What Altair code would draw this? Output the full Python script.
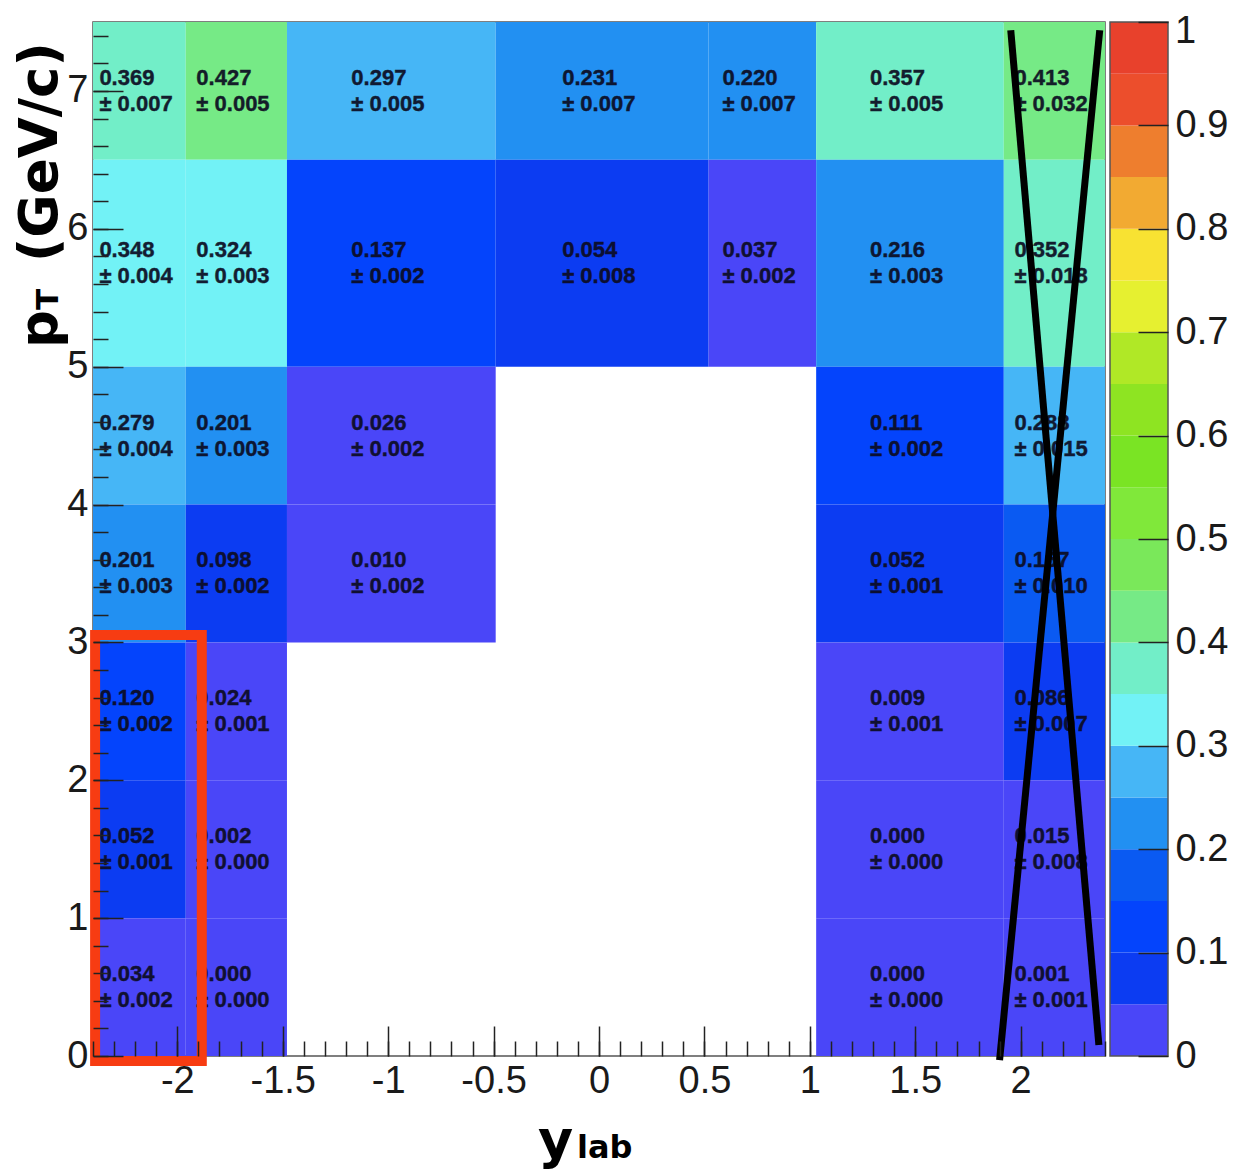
import altair as alt
import pandas as pd

# ---- data -----------------------------------------------------------------
x_edges = [-2.4, -1.96, -1.48, -0.49, 0.52, 1.03, 1.92, 2.4]
y_edges = [0, 1, 2, 3, 4, 5, 6.5, 7.5]

cell_col = [0, 1, 2, 3, 4, 5, 6,
            0, 1, 2, 3, 4, 5, 6,
            0, 1, 2, 5, 6,
            0, 1, 2, 5, 6,
            0, 1, 5, 6,
            0, 1, 5, 6,
            0, 1, 5, 6]
cell_row = [6, 6, 6, 6, 6, 6, 6,
            5, 5, 5, 5, 5, 5, 5,
            4, 4, 4, 4, 4,
            3, 3, 3, 3, 3,
            2, 2, 2, 2,
            1, 1, 1, 1,
            0, 0, 0, 0]
cell_val = [0.369, 0.427, 0.297, 0.231, 0.220, 0.357, 0.413,
            0.348, 0.324, 0.137, 0.054, 0.037, 0.216, 0.352,
            0.279, 0.201, 0.026, 0.111, 0.288,
            0.201, 0.098, 0.010, 0.052, 0.167,
            0.120, 0.024, 0.009, 0.086,
            0.052, 0.002, 0.000, 0.015,
            0.034, 0.000, 0.000, 0.001]
cell_err = [0.007, 0.005, 0.005, 0.007, 0.007, 0.005, 0.032,
            0.004, 0.003, 0.002, 0.008, 0.002, 0.003, 0.018,
            0.004, 0.003, 0.002, 0.002, 0.015,
            0.003, 0.002, 0.002, 0.001, 0.010,
            0.002, 0.001, 0.001, 0.007,
            0.001, 0.000, 0.000, 0.008,
            0.002, 0.000, 0.000, 0.001]

x_major = [-2, -1.5, -1, -0.5, 0, 0.5, 1, 1.5, 2]
x_minor = [round(-2.4 + 0.1 * i, 1) for i in range(49)]
y_major = [0, 1, 2, 3, 4, 5, 6, 7]
y_minor = [round(0.2 * i, 1) for i in range(38)]
cb_ticks = [round(0.1 * i, 1) for i in range(11)]

palette = ["#4a46f8", "#0c3cf2", "#0444fc", "#0a5af2", "#2290f2",
           "#46b6f6", "#72f2f6", "#72eec8", "#76ea86", "#7ae85a",
           "#80e83a", "#7ae424", "#8ee422", "#b0e826", "#e6f030",
           "#f8e232", "#f2aa32", "#ee7e2e", "#ec4e2c", "#e8412c"]
thresholds = [round(0.05 * i, 2) for i in range(1, 20)]
band_lo = [round(0.05 * i, 2) for i in range(20)]
band_hi = [round(0.05 * (i + 1), 2) for i in range(20)]

# annotations (data coordinates)
red_box = {"x0": -2.39, "x1": -1.884, "y0": -0.036, "y1": 3.053}
cross = {"xa": [1.953, 2.375], "ya": [7.44, 7.44],
         "xb": [2.371, 1.900], "yb": [0.08, -0.03]}

# ---- tables ---------------------------------------------------------------
df = pd.DataFrame({"col": cell_col, "row": cell_row, "val": cell_val, "err": cell_err})
df["x0"] = [x_edges[c] for c in df["col"]]
df["x1"] = [x_edges[c + 1] for c in df["col"]]
df["y0"] = [y_edges[r] for r in df["row"]]
df["y1"] = [y_edges[r + 1] for r in df["row"]]
df["xc"] = (df["x0"] + df["x1"]) / 2
df["yc"] = (df["y0"] + df["y1"]) / 2
df["label"] = [f"{v:.3f}\n\u00b1 {e:.3f}" for v, e in zip(df["val"], df["err"])]

box_df = pd.DataFrame([red_box])
cross_df = pd.DataFrame(cross)
cb_df = pd.DataFrame({"lo": band_lo, "hi": band_hi})
cb_df["mid"] = (cb_df["lo"] + cb_df["hi"]) / 2
dummy = pd.DataFrame({"a": [0]})

W, H = 1012, 1034
CB_X0, CB_X1 = 1017, 1075
LABEL_FONT = "Liberation Sans"
TITLE_FONT = "DejaVu Sans"

xs = alt.Scale(domain=[-2.4, 2.4], nice=False, zero=False)
ys = alt.Scale(domain=[0, 7.5], nice=False, zero=False)
cs = alt.Scale(type="threshold", domain=thresholds, range=palette)

axis_style = dict(domain=False, grid=False, tickColor="#222222", tickWidth=1.5, zindex=1,
                  labelFont=LABEL_FONT, labelFontSize=38, labelColor="#1a1a1a",
                  labelOverlap=False)
axis_common = dict(labelExpr="'' + datum.value", **axis_style)

heat = alt.Chart(df).mark_rect(strokeWidth=0).encode(
    x=alt.X("x0:Q", scale=xs, title=None,
            axis=alt.Axis(orient="bottom", values=x_major, offset=-30, tickSize=30,
                          labelPadding=6, **axis_common)),
    x2="x1:Q",
    y=alt.Y("y0:Q", scale=ys, title=None,
            axis=alt.Axis(orient="left", values=y_major, offset=-30, tickSize=30,
                          labelPadding=5, **axis_common)),
    y2="y1:Q",
    color=alt.Color("val:Q", scale=cs, legend=None),
)

minor_common = dict(domain=False, grid=False, labels=False, tickColor="#222222",
                    tickWidth=1.5, zindex=1, offset=-15, tickSize=15)

text = alt.Chart(df).mark_text(
    font=LABEL_FONT, fontWeight="bold", fontSize=22, lineBreak="\n", lineHeight=26,
    align="left", baseline="middle", dx=-40, dy=-13, color="#0c0c22",
    stroke="#0c0c22", strokeWidth=0.4, opacity=0.92,
).encode(
    x=alt.X("xc:Q", scale=xs, title=None,
            axis=alt.Axis(orient="bottom", values=x_minor, **minor_common)),
    y=alt.Y("yc:Q", scale=ys, title=None,
            axis=alt.Axis(orient="left", values=y_minor, **minor_common)),
    text="label:N",
)

box = alt.Chart(box_df).mark_rect(fillOpacity=0, stroke="#f73c12", strokeWidth=10).encode(
    x=alt.X("x0:Q", scale=xs, axis=None), x2="x1:Q",
    y=alt.Y("y0:Q", scale=ys, axis=None), y2="y1:Q",
)

xmark = alt.Chart(cross_df).mark_rule(stroke="black", strokeWidth=7).encode(
    x=alt.X("xa:Q", scale=xs, axis=None), x2="xb:Q",
    y=alt.Y("ya:Q", scale=ys, axis=None), y2="yb:Q",
)

cbar = alt.Chart(cb_df).mark_rect(strokeWidth=0).encode(
    x=alt.value(CB_X0), x2=alt.value(CB_X1),
    y=alt.Y("lo:Q", scale=alt.Scale(domain=[0, 1], nice=False, zero=False), title=None,
            axis=alt.Axis(orient="right", values=cb_ticks, offset=CB_X1 - W - 30,
                          tickSize=30, labelPadding=7,
                          labelExpr="datum.value == 1 ? '' : '' + datum.value",
                          **axis_style)),
    y2="hi:Q",
    color=alt.Color("mid:Q", scale=cs, legend=None),
)

# top label of the colour bar, kept inside the page edge
cbar_top = alt.Chart(dummy).mark_text(
    text="1", font=LABEL_FONT, fontSize=38, color="#1a1a1a", align="left", baseline="top",
).encode(x=alt.value(CB_X1 + 7), y=alt.value(-9))

cbar_frame = alt.Chart(dummy).mark_rect(fillOpacity=0, stroke="#555555", strokeWidth=1.5).encode(
    x=alt.value(CB_X0), x2=alt.value(CB_X1), y=alt.value(0), y2=alt.value(H),
)


def label_piece(txt, px, py, size):
    return alt.Chart(dummy).mark_text(
        text=txt, font=TITLE_FONT, fontWeight="bold", fontSize=size, color="black",
        align="left", baseline="alphabetic", angle=270,
    ).encode(x=alt.value(px), y=alt.value(py))


def xlabel_piece(txt, px, py, size):
    return alt.Chart(dummy).mark_text(
        text=txt, font=TITLE_FONT, fontWeight="bold", fontSize=size, color="black",
        align="left", baseline="alphabetic",
    ).encode(x=alt.value(px), y=alt.value(py))


ytitle = (label_piece("p", -36, 326, 53) + label_piece("T", -35, 288, 31)
          + label_piece("(GeV/c)", -36, 240, 53))
xtitle = xlabel_piece("y", 445, 1136, 54) + xlabel_piece("lab", 484, 1136, 32)

chart = alt.layer(heat, text, box, xmark, cbar, cbar_frame, cbar_top, ytitle, xtitle).resolve_axis(
    x="independent", y="independent"
).resolve_scale(y="independent").properties(
    width=W, height=H,
    autosize=alt.AutoSizeParams(type="none"),
    padding={"left": 85, "top": 14, "right": 125, "bottom": 119},
    background="white",
).configure_view(stroke="#555555", strokeWidth=1.5)

chart.save("out.html", embed_options={"renderer": "svg", "actions": False})
